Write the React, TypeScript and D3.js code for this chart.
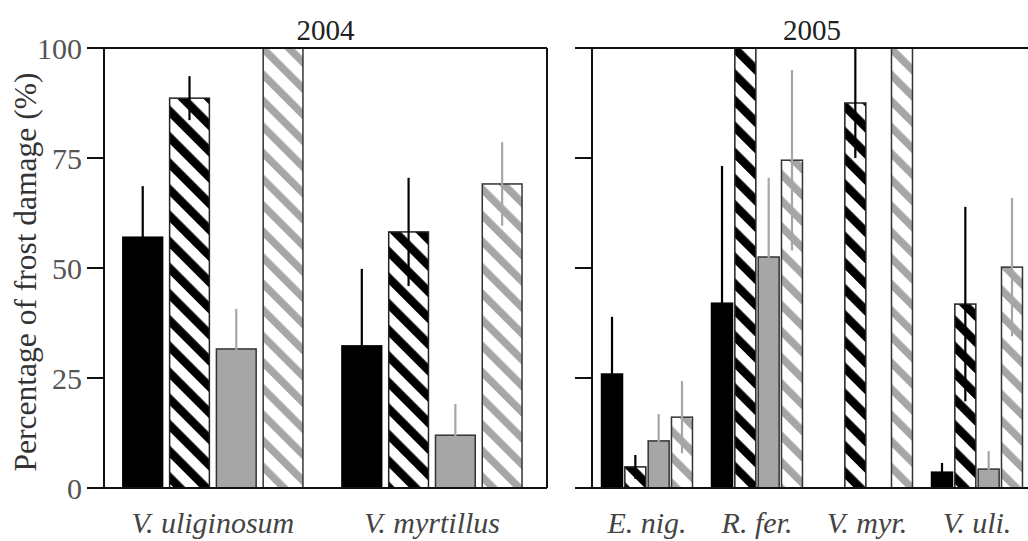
import React from "react";
import * as d3 from "d3";

// ---- data ----
const groups2004 = ["V. uliginosum", "V. myrtillus"];
const groups2005 = ["E. nig.", "R. fer.", "V. myr.", "V. uli."];
const seriesKeys = ["black", "blackHatch", "grey", "greyHatch"];
const yTicks = [0, 25, 50, 75, 100];
const panelTitles = ["2004", "2005"];
const yLabel = "Percentage of frost damage (%)";

const mean2004Black = [57.0, 32.3];
const err2004Black = [11.6, 17.5];
const mean2004BlackHatch = [88.6, 58.2];
const err2004BlackHatch = [5.0, 12.3];
const mean2004Grey = [31.6, 12.0];
const err2004Grey = [9.1, 7.1];
const mean2004GreyHatch = [100, 69.1];
const err2004GreyHatch = [0, 9.5];

const mean2005Black = [25.9, 42.0, null, 3.6];
const err2005Black = [13.0, 31.2, null, 2.1];
const mean2005BlackHatch = [4.8, 100, 87.5, 41.8];
const err2005BlackHatch = [2.7, 0, 12.5, 22.1];
const mean2005Grey = [10.7, 52.5, null, 4.3];
const err2005Grey = [6.1, 18.0, null, 4.1];
const mean2005GreyHatch = [16.1, 74.5, 100, 50.2];
const err2005GreyHatch = [8.2, 20.5, 0, 15.7];

type Row = { group: string; key: string; mean: number | null; err: number | null };

function buildRows(groups: string[], means: (number | null)[][], errs: (number | null)[][]): Row[] {
  const rows: Row[] = [];
  groups.forEach((g, gi) => {
    seriesKeys.forEach((k, si) => {
      rows.push({ group: g, key: k, mean: means[si][gi], err: errs[si][gi] });
    });
  });
  return rows;
}

const rows2004 = buildRows(
  groups2004,
  [mean2004Black, mean2004BlackHatch, mean2004Grey, mean2004GreyHatch],
  [err2004Black, err2004BlackHatch, err2004Grey, err2004GreyHatch]
);
const rows2005 = buildRows(
  groups2005,
  [mean2005Black, mean2005BlackHatch, mean2005Grey, mean2005GreyHatch],
  [err2005Black, err2005BlackHatch, err2005Grey, err2005GreyHatch]
);

const W = 1028;
const H = 541;
const TOP = 48;
const BOTTOM = 488;
const GREY = "#a6a6a6";
const FONT = '"Liberation Serif", "Times New Roman", Times, "DejaVu Serif", serif';

const y = d3.scaleLinear().domain([0, 100]).range([BOTTOM, TOP]);

const fillFor: Record<string, string> = {
  black: "#000",
  blackHatch: "url(#hatchBlack)",
  grey: GREY,
  greyHatch: "url(#hatchGrey)",
};
const strokeFor: Record<string, string> = {
  black: "#000",
  blackHatch: "#222",
  grey: "#333",
  greyHatch: "#333",
};
const errColor: Record<string, string> = {
  black: "#000",
  blackHatch: "#000",
  grey: GREY,
  greyHatch: GREY,
};

function Panel(props: {
  groups: string[];
  rows: Row[];
  x0: number;
  x1: number;
  outerPad: number;
  innerPad: number;
  align: number;
  barPad: number;
  title: string;
  showTickLabels: boolean;
}) {
  const { groups, rows, x0, x1, outerPad, innerPad, align, barPad, title, showTickLabels } = props;
  const xg = d3.scaleBand().domain(groups).range([x0, x1]).paddingInner(innerPad).paddingOuter(outerPad).align(align);
  const xs = d3.scaleBand().domain(seriesKeys).range([0, xg.bandwidth()]).paddingInner(barPad).paddingOuter(0);
  const tickX0 = x0 - 17;
  return (
    <g>
      {rows.map((r, i) =>
        r.mean == null ? null : (
          <rect
            key={"b" + i}
            x={(xg(r.group) as number) + (xs(r.key) as number)}
            y={y(r.mean)}
            width={xs.bandwidth()}
            height={y(0) - y(r.mean)}
            fill={fillFor[r.key]}
            stroke={strokeFor[r.key]}
            strokeWidth={1.5}
          />
        )
      )}
      {rows.map((r, i) =>
        r.mean == null || !r.err ? null : (
          <line
            key={"e" + i}
            x1={(xg(r.group) as number) + (xs(r.key) as number) + xs.bandwidth() / 2}
            x2={(xg(r.group) as number) + (xs(r.key) as number) + xs.bandwidth() / 2}
            y1={y(Math.max(0, r.mean - r.err))}
            y2={y(Math.min(100, r.mean + r.err))}
            stroke={errColor[r.key]}
            strokeWidth={2.2}
          />
        )
      )}
      <line x1={x0} x2={x0} y1={TOP} y2={BOTTOM} stroke="#111" strokeWidth={2} />
      <line x1={x0} x2={x1} y1={TOP} y2={TOP} stroke="#111" strokeWidth={2} />
      <line x1={x1} x2={x1} y1={TOP} y2={BOTTOM} stroke="#111" strokeWidth={2} />
      <line x1={tickX0} x2={x1} y1={BOTTOM} y2={BOTTOM} stroke="#111" strokeWidth={2} />
      {yTicks.map((t) => (
        <g key={"t" + t}>
          <line x1={tickX0} x2={x0} y1={y(t)} y2={y(t)} stroke="#111" strokeWidth={2} />
          {showTickLabels ? (
            <text x={tickX0 - 5} y={y(t)} dy="0.35em" textAnchor="end" fill="#555" style={{ fontFamily: FONT, fontSize: "30px" }}>
              {t}
            </text>
          ) : null}
        </g>
      ))}
      {groups.map((g) => (
        <text
          key={"c" + g}
          x={(xg(g) as number) + xg.bandwidth() / 2}
          y={533}
          textAnchor="middle"
          fill="#444"
          style={{ fontFamily: FONT, fontSize: "30px", fontStyle: "italic" }}
        >
          {g}
        </text>
      ))}
      <text x={(x0 + x1) / 2} y={40} textAnchor="middle" fill="#222" style={{ fontFamily: FONT, fontSize: "29px" }}>
        {title}
      </text>
    </g>
  );
}

export default function App() {
  return (
    <svg
      width={W}
      height={H}
      style={{ position: "absolute", left: 0, top: 0, background: "#fff" }}
      xmlns="http://www.w3.org/2000/svg"
    >
      <defs>
        <pattern id="hatchBlack" patternUnits="userSpaceOnUse" width={18.5} height={18.5} patternTransform="rotate(-45)">
          <rect x={0} y={0} width={18.5} height={18.5} fill="#fff" />
          <rect x={0} y={0} width={8.5} height={18.5} fill="#000" />
        </pattern>
        <pattern id="hatchGrey" patternUnits="userSpaceOnUse" width={18.5} height={18.5} patternTransform="rotate(-45)">
          <rect x={0} y={0} width={18.5} height={18.5} fill="#fff" />
          <rect x={0} y={0} width={7.5} height={18.5} fill={GREY} />
        </pattern>
      </defs>
      <rect x={0} y={0} width={W} height={H} fill="#fff" />
      <Panel
        groups={groups2004}
        rows={rows2004}
        x0={104}
        x1={547}
        outerPad={0.1}
        innerPad={0.178}
        align={0.43}
        barPad={0.15}
        title={panelTitles[0]}
        showTickLabels={true}
      />
      <Panel
        groups={groups2005}
        rows={rows2005}
        x0={592}
        x1={1032}
        outerPad={0.0865}
        innerPad={0.173}
        align={0.5}
        barPad={0.1}
        title={panelTitles[1]}
        showTickLabels={false}
      />
      <text
        transform={`translate(36,${(TOP + BOTTOM) / 2 + 4}) rotate(-90)`}
        textAnchor="middle"
        fill="#333"
        style={{ fontFamily: FONT, fontSize: "31.5px" }}
      >
        {yLabel}
      </text>
    </svg>
  );
}
